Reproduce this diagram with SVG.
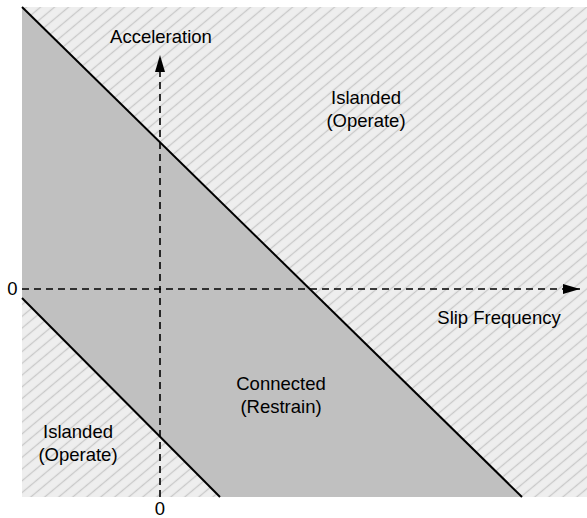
<svg xmlns="http://www.w3.org/2000/svg" width="587" height="518" viewBox="0 0 587 518">
  <defs>
    <pattern id="hatch" patternUnits="userSpaceOnUse" width="9" height="9" patternTransform="rotate(-40)">
      <rect width="9" height="9" fill="#eeeeee"/>
      <line x1="0" y1="4.5" x2="9" y2="4.5" stroke="#c9c9c9" stroke-width="1.3"/>
    </pattern>
    <marker id="arrow" viewBox="0 0 17 10" refX="17" refY="5" markerWidth="17" markerHeight="10" markerUnits="userSpaceOnUse" orient="auto">
      <path d="M0,0 L17,5 L0,10 Z" fill="#000"/>
    </marker>
  </defs>
  <style>
    text { font-family: "Liberation Sans", Arial, sans-serif; font-size: 18.5px; fill: #000; }
    .mid { text-anchor: middle; }
    .axis { stroke: #000; stroke-width: 1.6; stroke-dasharray: 7 5; fill: none; }
    .edge { stroke: #000; stroke-width: 2; fill: none; }
  </style>
  <rect width="587" height="518" fill="#ffffff"/>
  <g id="islanded-regions">
    <rect x="22" y="7" width="565" height="490" fill="url(#hatch)"/>
  </g>
  <g id="connected-region">
    <polygon points="22,7 522,497 220,497 22,298" fill="#c0c0c0"/>
    <line class="edge" x1="22" y1="7" x2="522" y2="497"/>
    <line class="edge" x1="22" y1="298" x2="220" y2="497"/>
  </g>
  <g id="connectors">
    <line class="axis" x1="22" y1="289" x2="580" y2="289" marker-end="url(#arrow)"/>
    <line class="axis" x1="160" y1="497" x2="160" y2="55" marker-end="url(#arrow)"/>
  </g>
  <g id="labels">
    <text class="mid" x="161" y="43">Acceleration</text>
    <text class="mid" x="499" y="324">Slip Frequency</text>
    <text class="mid" x="12.5" y="295">0</text>
    <text class="mid" x="160" y="515">0</text>
  </g>
  <g id="node-islanded-upper">
    <text class="mid" x="366" y="104">Islanded</text>
    <text class="mid" x="366" y="127">(Operate)</text>
  </g>
  <g id="node-connected">
    <text class="mid" x="281" y="390">Connected</text>
    <text class="mid" x="281" y="413">(Restrain)</text>
  </g>
  <g id="node-islanded-lower">
    <text class="mid" x="78" y="438">Islanded</text>
    <text class="mid" x="78" y="461">(Operate)</text>
  </g>
</svg>
